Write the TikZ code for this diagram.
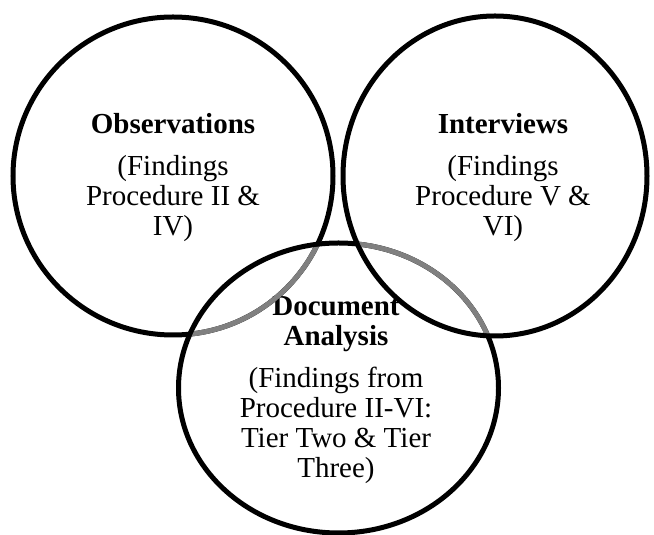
\documentclass[tikz,border=0pt]{standalone}
\usepackage{fontspec}
\setmainfont{Liberation Serif}
\begin{document}
\begin{tikzpicture}[x=1pt,y=1pt,
  ring/.style={line width=5pt, draw=black},
  faded/.style={line width=5pt, draw=black!50},
  setlabel/.style={align=center, anchor=base, inner sep=0pt,
    font=\fontsize{29}{30}\selectfont}]
\useasboundingbox (0,0) rectangle (654,535);

% labels of the three sets (anchored on the baseline of their last line)
\node[setlabel] (obs) at (173,299)
  {\textbf{Observations}\\[12pt](Findings\\Procedure II \&\\IV)};
\node[setlabel] (int) at (503,299)
  {\textbf{Interviews}\\[12pt](Findings\\Procedure V \&\\VI)};
\node[setlabel] (doc) at (336,57)
  {\textbf{Document}\\\textbf{Analysis}\\[12pt](Findings from\\Procedure II-VI:\\Tier Two \& Tier\\Three)};

% outlines of the three sets
\draw[ring] (173,359) ellipse [x radius=160, y radius=159];
\draw[ring] (495,359) ellipse [x radius=152, y radius=160];
\draw[ring] (338.5,147) ellipse [x radius=160, y radius=145];

% lighter arcs where outlines pass inside a neighbouring set
\begin{scope}
  \clip (338.5,147) ellipse [x radius=157.5, y radius=142.5];
  \draw[faded] (173,359) ellipse [x radius=160, y radius=159];
\end{scope}
\begin{scope}
  \clip (495,359) ellipse [x radius=149.5, y radius=157.5];
  \draw[faded] (338.5,147) ellipse [x radius=160, y radius=145];
\end{scope}
\end{tikzpicture}
\end{document}
